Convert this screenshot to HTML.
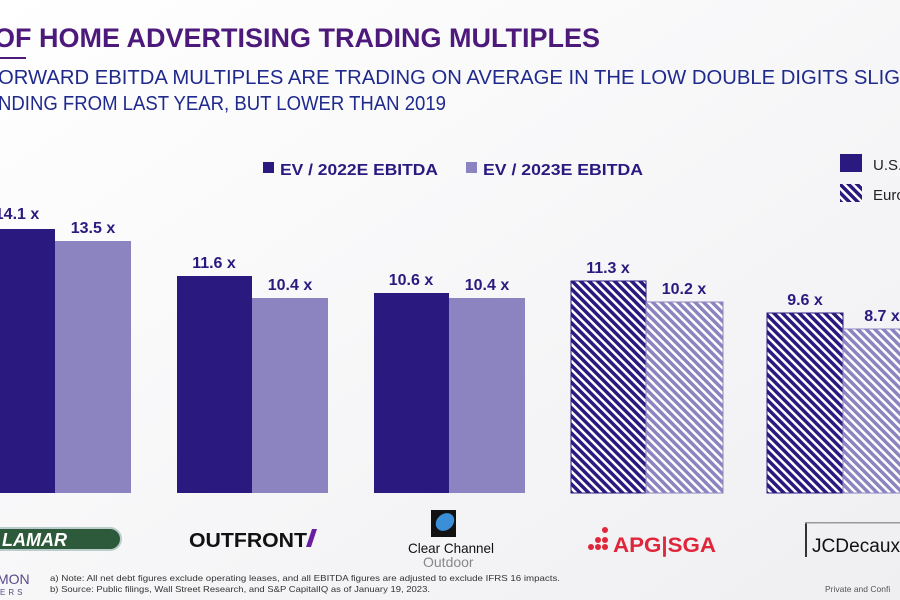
<!DOCTYPE html>
<html><head><meta charset="utf-8"><style>
html,body{margin:0;padding:0;background:#f7f7f9;}
svg{display:block;font-family:"Liberation Sans",sans-serif;}
</style></head><body>
<svg width="900" height="600" viewBox="0 0 900 600">
<defs>
<linearGradient id="bg" x1="0" y1="0" x2="1" y2="1"><stop offset="0" stop-color="#ffffff"/><stop offset="1" stop-color="#efeff2"/></linearGradient>
<pattern id="hd" width="6" height="6" patternUnits="userSpaceOnUse" patternTransform="rotate(-45)">
<rect width="6" height="6" fill="#fff"/><rect width="3.5" height="6" fill="#2a1a80"/></pattern>
<pattern id="hl" width="6" height="6" patternUnits="userSpaceOnUse" patternTransform="rotate(-45)">
<rect width="6" height="6" fill="#fff"/><rect width="3.5" height="6" fill="#8c84c0"/></pattern>
</defs>
<rect width="900" height="600" fill="url(#bg)"/>
<text x="-6" y="47" font-size="27" fill="#4d1a7c" font-weight="bold" textLength="606" lengthAdjust="spacingAndGlyphs">OF HOME ADVERTISING TRADING MULTIPLES</text>
<rect x="0" y="57" width="26" height="2" fill="#4d1a7c"/>
<text x="-2" y="84" font-size="20" fill="#1f2a8c" textLength="902" lengthAdjust="spacingAndGlyphs">ORWARD EBITDA MULTIPLES ARE TRADING ON AVERAGE IN THE LOW DOUBLE DIGITS SLIG</text>
<text x="-2" y="110" font-size="20" fill="#1f2a8c" textLength="448" lengthAdjust="spacingAndGlyphs">NDING FROM LAST YEAR, BUT LOWER THAN 2019</text>
<rect x="263" y="162" width="11" height="11" fill="#2a1a80"/>
<text x="280" y="175" font-size="16" fill="#2a1a80" font-weight="bold" textLength="158" lengthAdjust="spacingAndGlyphs">EV / 2022E EBITDA</text>
<rect x="466" y="162" width="11" height="11" fill="#8c84c0"/>
<text x="483" y="175" font-size="16" fill="#2a1a80" font-weight="bold" textLength="160" lengthAdjust="spacingAndGlyphs">EV / 2023E EBITDA</text>
<rect x="840" y="154" width="22" height="18" fill="#2a1a80"/>
<text x="873" y="170" font-size="15" fill="#222">U.S.</text>
<rect x="840" y="184" width="22" height="18" fill="url(#hd)"/>
<text x="873" y="200" font-size="15" fill="#222">Euro</text>
<g font-size="16" font-weight="bold" fill="#2a1a80" text-anchor="middle">
<rect x="-20" y="229" width="75" height="264" fill="#2a1a80"/><text x="17" y="219">14.1 x</text>
<rect x="55" y="241" width="76" height="252" fill="#8c84c0"/><text x="93" y="233">13.5 x</text>
<rect x="177" y="276" width="75" height="217" fill="#2a1a80"/><text x="214" y="268">11.6 x</text>
<rect x="252" y="298" width="76" height="195" fill="#8c84c0"/><text x="290" y="290">10.4 x</text>
<rect x="374" y="293" width="75" height="200" fill="#2a1a80"/><text x="411" y="285">10.6 x</text>
<rect x="449" y="298" width="76" height="195" fill="#8c84c0"/><text x="487" y="290">10.4 x</text>
<rect x="571" y="281" width="75" height="212" fill="url(#hd)" stroke="#2a1a80"/><text x="608" y="273">11.3 x</text>
<rect x="646" y="302" width="77" height="191" fill="url(#hl)" stroke="#8c84c0"/><text x="684" y="294">10.2 x</text>
<rect x="767" y="313" width="76" height="180" fill="url(#hd)" stroke="#2a1a80"/><text x="805" y="305">9.6 x</text>
<rect x="843" y="329" width="60" height="164" fill="url(#hl)" stroke="#8c84c0"/><text x="882" y="321">8.7 x</text>
</g>
<rect x="-10" y="528" width="131" height="22" rx="11" fill="#2d5a3a" stroke="#bcc" stroke-width="2"/>
<text x="2" y="546" font-size="18" font-weight="bold" font-style="italic" fill="#fff">LAMAR</text>
<text x="189" y="547" font-size="20" font-weight="bold" fill="#111" textLength="118" lengthAdjust="spacingAndGlyphs">OUTFRONT</text>
<polygon points="306,547 311,547 317,529 312,529" fill="#6a1ea0"/>
<rect x="431" y="510" width="25" height="27" fill="#111"/>
<ellipse cx="445" cy="522" rx="10" ry="8" fill="#3b8fd8" transform="rotate(-40 445 522)"/>
<text x="408" y="553" font-size="14" fill="#111" textLength="86" lengthAdjust="spacingAndGlyphs">Clear Channel</text>
<text x="423" y="567" font-size="14" fill="#888">Outdoor</text>
<g fill="#e0263a"><circle cx="605" cy="530" r="3"/><circle cx="598" cy="540" r="3"/><circle cx="605" cy="540" r="3"/><circle cx="591" cy="547" r="3"/><circle cx="598" cy="547" r="3"/><circle cx="605" cy="547" r="3"/></g>
<text x="613" y="552" font-size="21" font-weight="bold" fill="#e0263a" textLength="103" lengthAdjust="spacingAndGlyphs">APG|SGA</text>
<rect x="805" y="522" width="2" height="35" fill="#333"/>
<rect x="805" y="522" width="95" height="1.5" fill="#999"/>
<text x="812" y="552" font-size="19" fill="#111" textLength="88" lengthAdjust="spacingAndGlyphs">JCDecaux</text>
<text x="-3" y="584" font-size="14" fill="#5a4a8a">MON</text>
<text x="0" y="595" font-size="8" fill="#5a4a8a" letter-spacing="3">ERS</text>
<text x="50" y="581" font-size="8.5" fill="#333" textLength="510" lengthAdjust="spacingAndGlyphs">a) Note: All net debt figures exclude operating leases, and all EBITDA figures are adjusted to exclude IFRS 16 impacts.</text>
<text x="50" y="592" font-size="8.5" fill="#333" textLength="380" lengthAdjust="spacingAndGlyphs">b) Source: Public filings, Wall Street Research, and S&amp;P CapitalIQ as of January 19, 2023.</text>
<text x="825" y="592" font-size="8.5" fill="#555">Private and Confi</text>
</svg>
</body></html>
